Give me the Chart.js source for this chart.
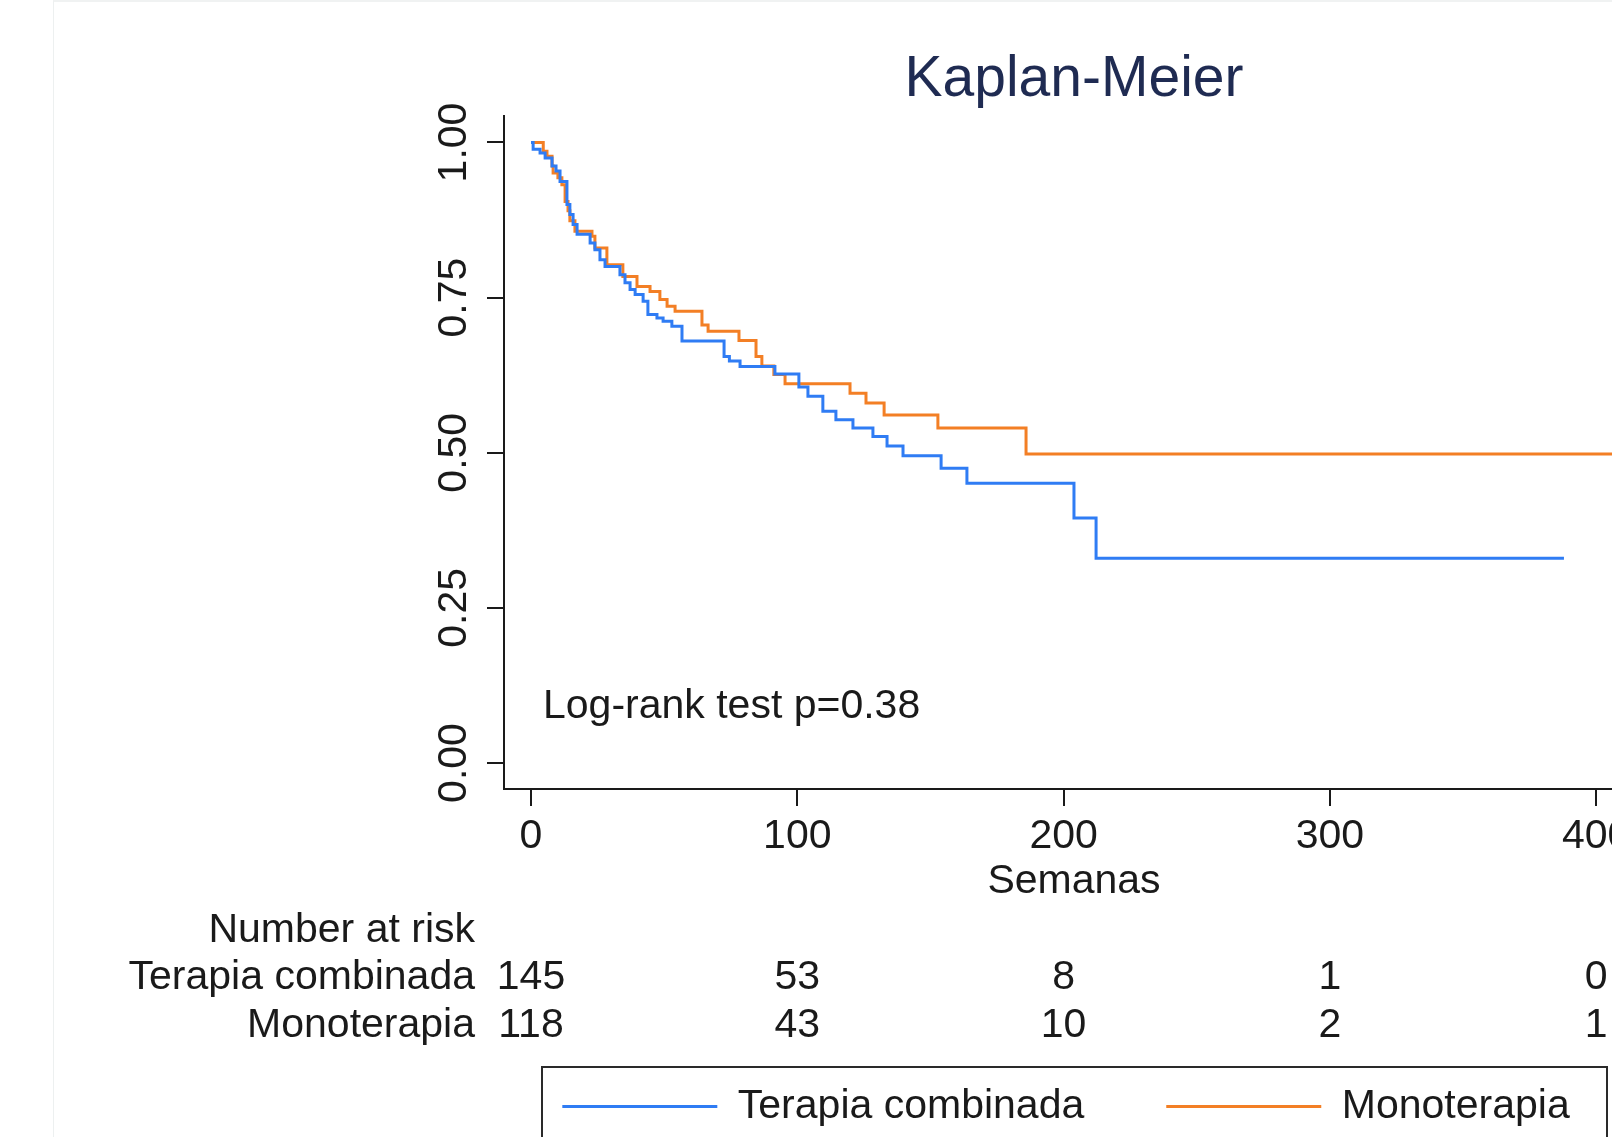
<!DOCTYPE html>
<html>
<head>
<meta charset="utf-8">
<title>Kaplan-Meier</title>
<script src="https://cdn.jsdelivr.net/npm/chart.js@4.4.1/dist/chart.umd.min.js"></script>
<style>
  html, body { margin: 0; padding: 0; background: #fff; overflow: hidden; }
  #frame { position: absolute; left: 53px; top: 0; width: 1700px; height: 1137px;
           border-left: 1px solid #edf0f0; border-top: 2px solid #f0f2f2; }
  #myChart { position: absolute; left: 0; top: 0; }
</style>
</head>
<body>
<div id="frame"></div>
<canvas id="myChart" width="2132" height="1137"></canvas>
<script>
// survival curves (weeks, survival probability)
const groupNames = ['Terapia combinada', 'Monoterapia'];

const combinadaWeeks = [0, 0.8, 3.4, 5.3, 7.9, 9.4, 10.9, 13.5, 14.6, 15.8,
  17.3, 22.2, 24.0, 25.9, 27.8, 33.4, 35.3, 37.2, 39.1, 42.1,
  43.9, 47.3, 49.6, 52.9, 56.7, 72.5, 74.5, 78.5, 91.6, 100.6,
  104.0, 109.6, 114.5, 120.9, 128.4, 133.7, 139.7, 154.0, 163.7, 203.9,
  212.2, 387.9];
const combinadaSurv = [1, 0.989, 0.983, 0.975, 0.962, 0.954, 0.937, 0.900, 0.884, 0.868,
  0.852, 0.838, 0.827, 0.811, 0.800, 0.787, 0.774, 0.763, 0.755, 0.744,
  0.723, 0.717, 0.712, 0.704, 0.680, 0.655, 0.648, 0.639, 0.627, 0.606,
  0.591, 0.567, 0.553, 0.540, 0.526, 0.511, 0.495, 0.475, 0.451, 0.395,
  0.330, 0.330];

const monoWeeks = [0, 4.6, 6.0, 7.9, 8.3, 10.1, 11.6, 12.8, 13.9, 14.6,
  16.5, 22.9, 24.0, 28.5, 34.5, 39.8, 44.7, 48.4, 51.1, 54.1,
  64.2, 66.5, 78.1, 84.5, 86.7, 91.2, 95.4, 119.8, 125.8, 132.6,
  152.8, 185.9, 416];
const monoSurv = [1, 0.986, 0.978, 0.962, 0.951, 0.943, 0.932, 0.905, 0.890, 0.874,
  0.857, 0.849, 0.830, 0.803, 0.784, 0.768, 0.760, 0.747, 0.736, 0.728,
  0.706, 0.696, 0.681, 0.655, 0.640, 0.626, 0.611, 0.596, 0.580, 0.561,
  0.540, 0.498, 0.498];

// number at risk table
const riskWeeks = [0, 100, 200, 300, 400];
const riskCombinada = [145, 53, 8, 1, 0];
const riskMono = [118, 43, 10, 2, 1];

const xTicks = [0, 100, 200, 300, 400];
const yTicks = [0, 0.25, 0.5, 0.75, 1];

const FONT = '"Liberation Sans", Arial, Helvetica, sans-serif';
const INK = '#1a1a1a';
const BLUE = '#2f7cf4';
const ORANGE = '#f37f25';
const NAVY = '#1f2b52';

const toPoints = (xs, ys) => xs.map((x, i) => ({ x: x, y: ys[i] }));

// risk table, log-rank note and the frame round the legend
const riskTable = {
  id: 'riskTable',
  afterDraw(chart) {
    const ctx = chart.ctx;
    const xs = chart.scales.x;
    const ys = chart.scales.y;
    const area = chart.chartArea;
    ctx.save();
    ctx.font = '41px ' + FONT;
    ctx.fillStyle = INK;
    ctx.textBaseline = 'middle';

    const labelX = area.left - 29;
    const rows = [
      [area.bottom + 142, 'Number at risk', null],
      [area.bottom + 188.5, groupNames[0], riskCombinada],
      [area.bottom + 236.5, groupNames[1], riskMono]
    ];
    rows.forEach(([y, name, counts]) => {
      ctx.textAlign = 'right';
      ctx.fillText(name, labelX, y);
      if (counts) {
        ctx.textAlign = 'center';
        riskWeeks.forEach((w, i) => ctx.fillText(String(counts[i]), xs.getPixelForValue(w), y));
      }
    });

    ctx.textAlign = 'left';
    ctx.fillText('Log-rank test p=0.38', xs.getPixelForValue(4.5), ys.getPixelForValue(0.0906));

    // legend frame
    const lg = chart.legend;
    const mid = (area.left + area.right) / 2;
    ctx.strokeStyle = '#2a2a2a';
    ctx.lineWidth = 2;
    ctx.strokeRect(mid - 532, lg.top + 63, 1065, 90);
    ctx.restore();
  }
};

const ctx = document.getElementById('myChart').getContext('2d');
const myChart = new Chart(ctx, {
  type: 'line',
  data: {
    datasets: [{
      label: groupNames[0],
      data: toPoints(combinadaWeeks, combinadaSurv),
      borderColor: BLUE,
      backgroundColor: BLUE,
      borderWidth: 3,
      pointRadius: 0,
      stepped: 'before',
      fill: false
    }, {
      label: groupNames[1],
      data: toPoints(monoWeeks, monoSurv),
      borderColor: ORANGE,
      backgroundColor: ORANGE,
      borderWidth: 3,
      pointRadius: 0,
      stepped: 'before',
      fill: false
    }]
  },
  options: {
    responsive: false,
    animation: false,
    devicePixelRatio: 1,
    layout: { padding: 0 },
    plugins: {
      title: {
        display: true,
        text: 'Kaplan-Meier',
        color: NAVY,
        fullSize: false,
        font: { family: FONT, size: 57, weight: 'normal' },
        padding: { top: 46.4, bottom: 1.2 }
      },
      legend: {
        position: 'bottom',
        fullSize: true,
        labels: {
          usePointStyle: true,
          pointStyle: 'line',
          pointStyleWidth: 155,
          padding: 82,
          color: INK,
          font: { family: FONT, size: 41 }
        }
      },
      tooltip: { enabled: false }
    },
    scales: {
      x: {
        type: 'linear',
        position: 'bottom',
        min: -10.14,
        max: 417.96,
        afterBuildTicks: s => { s.ticks = xTicks.map(v => ({ value: v })); },
        afterFit: s => { s.height = 215; },
        ticks: { padding: 6, color: INK, minRotation: 0, maxRotation: 0,
                 font: { family: FONT, size: 41 }, callback: v => String(v) },
        grid: { display: true, drawOnChartArea: false, drawTicks: true, tickLength: 17, color: INK, lineWidth: 2 },
        border: { display: true, color: INK, width: 2 },
        title: { display: true, text: 'Semanas', color: INK,
                 font: { family: FONT, size: 41 }, padding: { top: 0, bottom: 97.4 } }
      },
      y: {
        type: 'linear',
        position: 'left',
        min: -0.0419,
        max: 1.0427,
        afterBuildTicks: s => { s.ticks = yTicks.map(v => ({ value: v })); },
        afterFit: s => { s.width = 504; },
        ticks: { padding: -8, color: INK, minRotation: 90, maxRotation: 90, crossAlign: 'center',
                 font: { family: FONT, size: 41 }, callback: v => v.toFixed(2) },
        grid: { display: true, drawOnChartArea: false, drawTicks: true, tickLength: 17, color: INK, lineWidth: 2 },
        border: { display: true, color: INK, width: 2 }
      },
      // empty right-hand box: keeps the plot 504..1644 while the canvas runs wider
      yr: {
        type: 'linear',
        position: 'right',
        display: true,
        afterFit: s => { s.width = 488; },
        ticks: { display: false },
        grid: { display: false },
        border: { display: false }
      }
    }
  },
  plugins: [riskTable]
});
</script>
</body>
</html>
